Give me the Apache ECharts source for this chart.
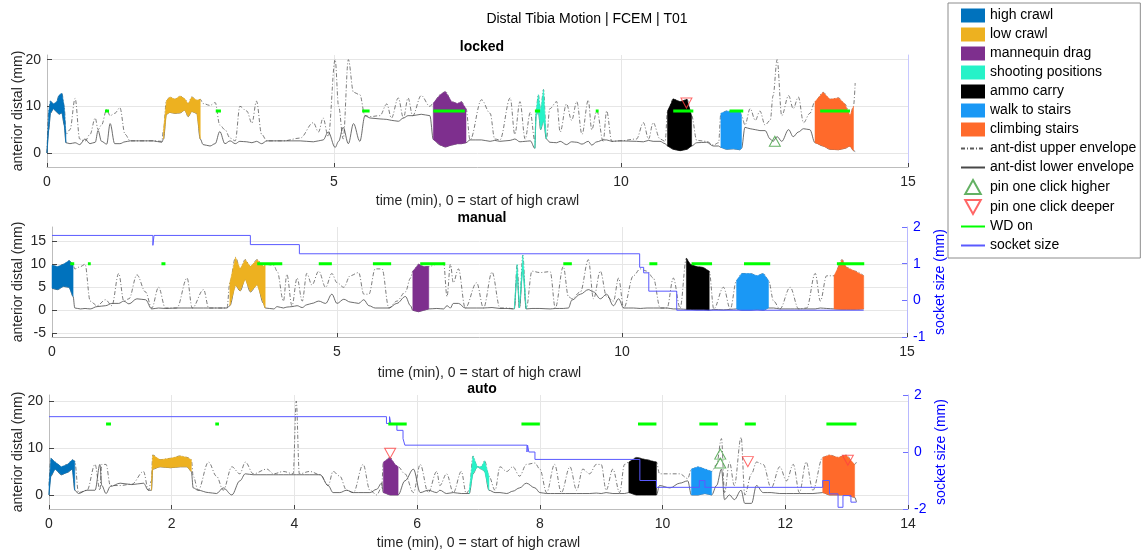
<!DOCTYPE html>
<html>
<head>
<meta charset="utf-8">
<script src="https://cdn.jsdelivr.net/npm/echarts@6/dist/echarts.min.js"></script>
<style>
  html, body { margin: 0; background: #fff; }
  #chart { width: 1143px; height: 555px; }
</style>
</head>
<body>
<div id="chart"></div>
<script>
// activities shown as filled bands between the two envelopes
const activityNames = ['high crawl', 'low crawl', 'mannequin drag', 'shooting positions', 'ammo carry', 'walk to stairs', 'climbing stairs'];
const activityColors = ['#0072BD', '#EDB120', '#7E2F8E', '#26F2C8', '#000000', '#1A98F5', '#FF6A2B'];

// ---- locked ----
const lockedT = [
  0, 0.03, 0.06, 0.11, 0.17, 0.21, 0.26, 0.30, 0.33, 0.40,
  0.49, 0.57, 0.66, 0.75, 0.84, 0.89, 0.95, 1.04, 1.10, 1.18,
  1.27, 1.36, 1.45, 1.62, 1.85, 2.00, 2.03, 2.08, 2.14, 2.23,
  2.32, 2.40, 2.46, 2.52, 2.61, 2.67, 2.72, 2.84, 2.93, 3.01,
  3.10, 3.19, 3.28, 3.36, 3.48, 3.57, 3.65, 3.74, 3.83, 4.12,
  4.41, 4.64, 4.73, 4.81, 4.90, 5.02, 5.08, 5.16, 5.25, 5.34,
  5.45, 5.54, 5.63, 5.80, 5.92, 6.00, 6.12, 6.21, 6.29, 6.37,
  6.52, 6.67, 6.73, 6.85, 6.94, 7.05, 7.15, 7.22, 7.30, 7.37,
  7.57, 7.72, 7.80, 7.89, 8.07, 8.15, 8.24, 8.33, 8.42, 8.50,
  8.52, 8.56, 8.60, 8.65, 8.70, 8.76, 8.88, 8.94, 9.05, 9.14,
  9.23, 9.32, 9.43, 9.49, 9.58, 9.69, 9.75, 9.84, 9.98, 10.27,
  10.39, 10.48, 10.56, 10.68, 10.77, 10.81, 10.91, 11.03, 11.15, 11.23,
  11.32, 11.49, 11.61, 11.70, 11.74, 11.84, 11.96, 12.07, 12.10, 12.16,
  12.25, 12.34, 12.42, 12.51, 12.60, 12.65, 12.72, 12.80, 12.92, 13.00,
  13.09, 13.18, 13.29, 13.38, 13.52, 13.64, 13.79, 13.90, 13.99, 14.05,
  14.08
];
const lockedUpper = [
  0, 9, 11.2, 10.5, 11, 12.4, 12.8, 10, 4, 5,
  11.7, 3, 2.5, 4, 7.5, 5, 6, 9.3, 8, 8.5,
  9.7, 4, 2.6, 2.6, 2.6, 2.5, 5, 11.2, 12, 11.5,
  12.2, 11.6, 10.5, 12, 11.3, 11.5, 10.6, 10.2, 10.8, 6,
  5, 3.2, 2.6, 10, 9, 6.4, 11.1, 4, 2.6, 2.6,
  3.2, 6.5, 4.5, 7.5, 3.5, 20, 10, 3, 20, 13,
  12.5, 8, 7.8, 8, 10.5, 7.5, 11.8, 7.5, 11.8, 8,
  12.3, 10, 10.7, 12.5, 13.2, 11, 10.6, 11, 9.5, 2.8,
  11.4, 8.5, 3, 2.8, 11.8, 4, 11, 3, 8.7, 2.5,
  9, 12.5, 9, 13.6, 3, 9.5, 11, 4.5, 10.5, 7,
  11, 4, 11.3, 5, 9, 2.5, 9, 2.5, 2.6, 3,
  6.5, 3, 6.5, 3, 2.5, 9, 11.6, 11, 11.5, 8,
  2.7, 2.5, 1.7, 2.2, 8.5, 9, 8.8, 9, 8, 6,
  9.5, 7, 9, 6, 7, 12.3, 20, 8, 12.3, 9.5,
  12, 6.5, 8.5, 11, 13, 11.5, 11.8, 10.5, 8, 10,
  15
];
const lockedLower = [
  0, 5, 8.5, 9.5, 8.8, 8.3, 8.6, 6, 2.2, 2,
  2.2, 1.8, 3, 2, 2.3, 4.8, 2.5, 1.9, 6.3, 2,
  2, 2.4, 2.6, 2.6, 2.6, 2.3, 3, 8.3, 8.7, 8.5,
  8.6, 9.2, 7.8, 8.9, 8.5, 3, 1.8, 1.5, 2, 4.6,
  2, 2.6, 2, 2.5, 2.4, 2.2, 2.5, 2, 2.6, 2.6,
  2.6, 2.4, 2.6, 2.8, 4.5, 1.2, 2.5, 5.5, 2, 6.3,
  2.5, 8, 7.5, 7.3, 7.2, 7, 6.8, 7.5, 8, 8,
  8.3, 8, 2.9, 1.7, 1.3, 1.7, 2, 2, 2.2, 2.8,
  2.8, 2.5, 2.7, 2.5, 2.7, 3, 2.4, 2.5, 2.6, 1,
  8, 9, 5, 7, 3, 2.3, 2.2, 2.5, 1.8, 2.4,
  2.3, 1.9, 2.5, 1.7, 2.4, 2.8, 2.8, 2.5, 2.6, 2.5,
  2.4, 2.7, 2.5, 2.5, 2, 1.5, 0.8, 0.5, 0.8, 1.5,
  2.2, 2.3, 1.5, 1.5, 1.2, 0.8, 0.9, 0.7, 1, 5.5,
  5.2, 5, 4.8, 4.8, 3, 2.5, 3.5, 2.5, 5, 3.5,
  4.5, 5.2, 5, 2.2, 1.5, 0.8, 0.7, 1, 1.5, 0.5,
  0.3
];
const lockedActivity = [[0, 0.33], [2.03, 2.67], [6.73, 7.30], [8.50, 8.70], [10.81, 11.23], [11.74, 12.10], [13.38, 14.05]];
const lockedWd = [[1.01, 1.08], [2.94, 3.03], [5.49, 5.62], [6.73, 7.28], [8.50, 8.59], [9.56, 9.61], [10.91, 11.26], [11.89, 12.13], [13.47, 13.99]];
const lockedWdLevel = 9;
const lockedPinHigher = [[12.68, 2.5]];
const lockedPinDeeper = [[11.14, 10.7]];

// ---- manual ----
const manualT = [
  0, 0.10, 0.20, 0.30, 0.37, 0.40, 0.50, 0.58, 0.67, 0.79,
  0.94, 1.05, 1.17, 1.26, 1.35, 1.49, 1.64, 1.75, 1.87, 1.99,
  2.19, 2.37, 2.46, 2.66, 2.75, 3.07, 3.12, 3.22, 3.30, 3.39,
  3.48, 3.60, 3.71, 3.74, 3.89, 3.95, 4.06, 4.12, 4.21, 4.30,
  4.39, 4.47, 4.56, 4.68, 4.80, 4.91, 5.00, 5.12, 5.23, 5.38,
  5.47, 5.56, 5.67, 5.79, 5.91, 6.05, 6.20, 6.29, 6.33, 6.43,
  6.52, 6.61, 6.75, 6.87, 6.93, 6.99, 7.04, 7.13, 7.25, 7.45,
  7.57, 7.72, 7.86, 7.98, 8.11, 8.16, 8.20, 8.26, 8.32, 8.42,
  8.56, 8.74, 8.83, 8.97, 9.06, 9.12, 9.27, 9.41, 9.50, 9.62,
  9.73, 9.85, 9.94, 10.03, 10.20, 10.32, 10.44, 10.55, 10.67, 10.79,
  10.90, 11.02, 11.13, 11.20, 11.31, 11.43, 11.53, 11.61, 11.78, 11.90,
  12.01, 12.10, 12.25, 12.37, 12.48, 12.57, 12.66, 12.77, 12.95, 13.10,
  13.24, 13.39, 13.48, 13.59, 13.72, 13.86, 13.94, 14.09, 14.24
];
const manualUpper = [
  9.8, 9.5, 10, 10.8, 10, 9, 9.5, 10, 2, 1,
  2.3, 1, 8, 2, 2.5, 7.7, 4, 0.5, 5, 0.5,
  0.5, 7, 0.5, 4.5, 0.5, 0.5, 6, 11.5, 9, 11,
  9.5, 11, 9.5, 10, 9.8, 8.5, 2, 7.8, 1, 7,
  2, 8, 5.5, 8.5, 5, 8, 6, 5, 7.5, 8.2,
  3.5, 3.5, 9, 9, 0.5, 2, 4, 7, 8.5, 10,
  9.5, 9.5, 10, 10.3, 3, 10, 6, 9, 0.5, 6,
  0.5, 8.3, 0.5, 0.5, 0.3, 10, 0.5, 12, 0.3, 8.5,
  8.2, 8.4, 0.5, 9.5, 3, 2.5, 4, 11, 2.5, 8.5,
  3, 2, 7, 0.5, 7.5, 9, 8.5, 7, 0.5, 0.5,
  7, 0.5, 11.3, 10, 9.5, 9.3, 8.5, 0.3, 5, 0.3,
  6.5, 8, 8, 7.5, 8, 6.5, 2, 0.3, 5, 0.3,
  0.5, 8, 2, 7.5, 7.5, 11, 9.3, 8.5, 7.5
];
const manualLower = [
  4.8, 4.5, 5.2, 5, 3, 0.5, 0.3, 0.4, 0.3, 0.8,
  1, 1.5, 1.5, 2, 1.4, 2.5, 2.3, 0.3, 0.5, 0.4,
  0.5, 0.5, 0.5, 0.5, 0.5, 0.5, 1, 5.5, 4.2, 6.8,
  4, 5.6, 1.5, 0.5, 0.3, 0.8, 0.5, 0.7, 0.8, 1,
  0.6, 1.2, 1.5, 2, 1.5, 3.5, 1.5, 2.4, 1.8, 1.5,
  2.3, 1, 0.5, 0.5, 0.5, 1.5, 3, 1, 0, -0.3,
  0, 0.3, 0.4, 0.3, 1, 0.5, 1.5, 1.5, 0.5, 0.5,
  0.5, 0.6, 0.4, 0.4, 0.3, 8, 0.5, 9, 0.3, 0.4,
  0.4, 0.3, 0.4, 0.4, 0.5, 2.2, 3.5, 4.5, 4, 2.5,
  3.5, 1, 2.5, 0.5, 0.5, 0.4, 0.5, 0.5, 0.5, 0.5,
  0.3, 0.3, 0.2, 0.2, 0.1, 0.1, 0, 0.2, 0.1, 0.2,
  0.3, 0, 0, 0.2, 0, 0.5, 0.5, 0.3, 0.3, 0.3,
  0.3, 0.3, 0.5, 0.4, 0.3, 0.2, 0.2, 0.2, 0.3
];
const manualActivity = [[0, 0.37], [3.12, 3.74], [6.33, 6.61], [8.11, 8.32], [11.13, 11.53], [12.01, 12.57], [13.72, 14.24]];
const manualWd = [[0.32, 0.39], [0.63, 0.68], [1.92, 1.99], [3.60, 4.04], [4.68, 4.91], [5.63, 5.95], [6.46, 6.90], [8.97, 9.12], [10.48, 10.62], [11.22, 11.58], [12.14, 12.60], [13.77, 14.25]];
const manualWdLevel = 10.1;
const manualPinHigher = [];
const manualPinDeeper = [];
const manualSocketT = [0, 1.77, 1.79, 3.48, 4.34, 10.31, 10.38, 10.47, 10.96, 14.24];
const manualSocketMm = [1.77, 1.5, 1.77, 1.52, 1.27, 0.9, 0.75, 0.25, -0.27, -0.27];

// ---- auto ----
const autoT = [
  0, 0.03, 0.10, 0.20, 0.30, 0.38, 0.42, 0.48, 0.62, 0.75,
  0.83, 0.86, 0.93, 1.00, 1.16, 1.35, 1.54, 1.62, 1.67, 1.69,
  1.81, 1.98, 2.14, 2.25, 2.32, 2.35, 2.43, 2.60, 2.73, 2.84,
  2.98, 3.11, 3.20, 3.33, 3.55, 3.66, 3.82, 3.98, 4.03, 4.08,
  4.25, 4.42, 4.55, 4.63, 4.74, 4.85, 4.96, 5.12, 5.23, 5.34,
  5.42, 5.45, 5.56, 5.64, 5.69, 5.80, 5.94, 6.05, 6.18, 6.32,
  6.37, 6.48, 6.59, 6.72, 6.80, 6.85, 6.91, 6.98, 7.05, 7.10,
  7.17, 7.27, 7.35, 7.46, 7.56, 7.67, 7.78, 7.92, 8.00, 8.11,
  8.24, 8.35, 8.49, 8.60, 8.70, 8.81, 8.92, 9.00, 9.08, 9.19,
  9.30, 9.38, 9.45, 9.57, 9.74, 9.90, 9.95, 10.12, 10.28, 10.41,
  10.47, 10.58, 10.69, 10.80, 10.88, 10.96, 11.01, 11.09, 11.17, 11.28,
  11.34, 11.45, 11.53, 11.64, 11.77, 11.91, 12.02, 12.13, 12.23, 12.34,
  12.45, 12.61, 12.72, 12.86, 12.99, 13.13, 13.16
];
const autoUpper = [
  2, 7.8, 7, 6, 6.5, 7.5, 7.2, 0.5, 1, 6.5,
  1, 6.5, 6.5, 2, 2, 2.3, 5, 1, 3, 8.5,
  7.5, 7.8, 8.3, 8, 7.5, 4, 1, 7, 4, 1,
  6, 4.5, 7, 4.5, 5.5, 4.5, 5, 4.5, 20, 4.5,
  5, 4.3, 2, 5, 4, 1, 0.5, 6.5, 1, 0,
  1.5, 7, 8, 6.5, 6, 4.5, 0.5, 6.5, 0.5, 5,
  2, 4.5, 0.5, 5, 0.3, 1, 8.3, 6, 6, 7.3,
  4, 1, 6, 5, 6, 4, 6.5, 6.8, 5.5, 0.5,
  6.5, 0.5, 6, 1, 5.5, 4.5, 6.5, 6.5, 1, 5.5,
  0.5, 6.5, 7, 8, 7.5, 7, 4.5, 4.5, 4.5, 3.5,
  5.5, 6, 5.5, 5, 6.5, 12, 0.5, 7, 2, 12.3,
  0, 4.5, 7, 6.5, 1.5, 6, 3, 6.5, 0.5, 7,
  1, 8, 8.5, 8, 8.5, 6.5, 7
];
const autoLower = [
  0, 4, 5.5, 4.3, 4.8, 5.5, 1, 0.3, 1, 1,
  6.5, 2, 0.3, 1.8, 2.5, 2.2, 2.5, 1, 1, 5.5,
  6, 5.8, 6, 6, 5, 1.5, 1, 0.5, 0.3, 1.5,
  0, 3, 4.5, 4.3, 4.3, 4.3, 4.3, 4.3, 4.3, 4.3,
  4.3, 4.3, 2, 0.5, 0.5, 1, 0.5, 0.5, 0.5, 1.2,
  2.5, 0.5, 0, 0, 0, 3, 5.5, 0.5, 1, 0.5,
  1, 0.3, 0.5, 0.3, 0.3, 0.3, 4.5, 6, 5.5, 5,
  1, 0.5, 0.5, 0.3, 0.8, 1.5, 2.5, 1.5, 0.5, 0.3,
  0.3, 0.3, 0.3, 0.3, 0.3, 0.3, 0.4, 0.3, 0.5, 0.3,
  0.3, 0.3, 0.5, 0, 0, 0, 2, 1.5, 2.5, 3,
  0, 0, 0.3, 0, 2, 5.5, -1, 0, -1, 1,
  -1.8, -1.8, 2, 0.5, 0.5, 0.3, 0.3, 0.3, 0.3, 0.3,
  0.3, 0.5, 0, 0, 0, -0.5, -1.5
];
const autoActivity = [[0, 0.42], [1.67, 2.32], [5.45, 5.69], [6.85, 7.17], [9.45, 9.90], [10.47, 10.80], [12.61, 13.13]];
const autoWd = [[0.93, 1.01], [2.71, 2.77], [5.53, 5.83], [7.70, 8.00], [9.60, 9.90], [10.60, 10.90], [11.34, 11.52], [12.67, 13.16]];
const autoWdLevel = 15.1;
const autoPinHigher = [[10.94, 8.7], [10.94, 6.8]];
const autoPinDeeper = [[5.56, 8.9], [11.39, 7.1], [13.02, 7.4]];
const autoSocketT = [0, 5.50, 5.55, 5.57, 5.67, 5.77, 5.80, 7.79, 7.80, 7.82, 7.92, 9.63, 9.90, 10.60, 10.69, 12.61, 12.72, 12.86, 12.94, 13.07, 13.16];
const autoSocketMm = [1.24, 1.0, 1.24, 1.0, 0.76, 0.47, 0.24, 0.0, 0.24, 0.0, -0.26, -1.0, -1.24, -1.0, -1.24, -1.0, -1.47, -1.94, -1.53, -1.76, -1.76];

const panels = [
  { title: 'locked', t: lockedT, up: lockedUpper, lo: lockedLower, acts: lockedActivity, wd: lockedWd, wdY: lockedWdLevel, higher: lockedPinHigher, deeper: lockedPinDeeper, sockT: null, sock: null },
  { title: 'manual', t: manualT, up: manualUpper, lo: manualLower, acts: manualActivity, wd: manualWd, wdY: manualWdLevel, higher: manualPinHigher, deeper: manualPinDeeper, sockT: manualSocketT, sock: manualSocketMm },
  { title: 'auto', t: autoT, up: autoUpper, lo: autoLower, acts: autoActivity, wd: autoWd, wdY: autoWdLevel, higher: autoPinHigher, deeper: autoPinDeeper, sockT: autoSocketT, sock: autoSocketMm }
];

// pixel layout of the three subplots
const layout = [
  { top: 55, height: 112, left: 47, right: 235, xMax: 15, xStep: 5, yMin: -3, yMax: 21, ySplit: 3, titleTop: 35, xGap: 27, yGap: 22 },
  { top: 227, height: 110, left: 52, right: 236, xMax: 15, xStep: 5, yMin: -5.8, yMax: 18.1, ySplit: 5, titleTop: 206, xGap: 29, yGap: 27, rMin: -1, rMax: 2, rStep: 1 },
  { top: 395, height: 114, left: 49, right: 235, xMax: 14, xStep: 2, yMin: -3, yMax: 21.3, ySplit: 3, titleTop: 377, xGap: 27, yGap: 24, rMin: -2, rMax: 2, rStep: 2 }
];

const FONT = 'Liberation Sans';
const TXT = '#262626';
const TRI_UP = 'path://M5,0L10,9L0,9Z';
const TRI_DOWN = 'path://M0,0L10,0L5,9Z';
const NO_FILL = 'rgba(0,0,0,0)';

const grids = [], xAxes = [], yAxes = [], series = [];
const titles = [{
  text: 'Distal Tibia Motion | FCEM | T01', left: 582, top: 7, textAlign: 'center',
  textStyle: { fontFamily: FONT, fontSize: 14, fontWeight: 'normal', color: '#000' }
}];

panels.forEach((p, gi) => {
  const L = layout[gi];
  grids.push({ left: L.left, right: L.right, top: L.top, height: L.height, outerBoundsMode: 'none', containLabel: false });
  titles.push({
    text: p.title, left: 477, top: L.titleTop, textAlign: 'center',
    textStyle: { fontFamily: FONT, fontSize: 14, fontWeight: 'bold', color: '#000' }
  });
  xAxes.push({
    type: 'value', gridIndex: gi, min: 0, max: L.xMax, interval: L.xStep,
    name: 'time (min), 0 = start of high crawl', nameLocation: 'middle', nameGap: L.xGap, nameMoveOverlap: false,
    nameTextStyle: { color: TXT, fontSize: 14, fontFamily: FONT },
    axisLine: { onZero: false, lineStyle: { color: '#BDBDBD' } },
    axisTick: { inside: true, length: 4, lineStyle: { color: '#444' } },
    axisLabel: { color: TXT, fontSize: 14, fontFamily: FONT, margin: 8 },
    splitLine: { show: true, showMinLine: false, showMaxLine: false, lineStyle: { color: '#E6E6E6' } }
  });
  yAxes.push({
    type: 'value', gridIndex: gi, min: L.yMin, max: L.yMax, splitNumber: L.ySplit, position: 'left',
    name: 'anterior distal (mm)', nameLocation: 'middle', nameGap: L.yGap, nameMoveOverlap: false,
    nameTextStyle: { color: TXT, fontSize: 14, fontFamily: FONT },
    axisLine: { show: true, onZero: false, lineStyle: { color: '#BDBDBD' } },
    axisTick: { show: true, inside: true, length: 5, lineStyle: { color: '#444' } },
    axisLabel: { color: TXT, fontSize: 14, fontFamily: FONT, margin: 6, showMinLabel: false, showMaxLabel: false },
    splitLine: { show: true, showMinLine: false, showMaxLine: false, lineStyle: { color: '#E6E6E6' } }
  });
  if (p.sockT) {
    yAxes.push({
      type: 'value', gridIndex: gi, min: L.rMin, max: L.rMax, interval: L.rStep, position: 'right',
      name: 'socket size (mm)', nameLocation: 'middle', nameGap: 26, nameRotate: 90, nameMoveOverlap: false,
      nameTextStyle: { color: '#0000FF', fontSize: 14, fontFamily: FONT },
      axisLine: { show: true, onZero: false, lineStyle: { color: '#B8B8FF' } },
      axisTick: { show: true, inside: true, length: 5, lineStyle: { color: '#7070FF' } },
      axisLabel: { color: '#0000FF', fontSize: 14, fontFamily: FONT, margin: 6 },
      splitLine: { show: false }
    });
  } else {
    yAxes.push({
      type: 'value', gridIndex: gi, min: 0, max: 1, position: 'right',
      axisLine: { show: true, onZero: false, lineStyle: { color: '#C8C8FF' } },
      axisTick: { show: false }, axisLabel: { show: false }, splitLine: { show: false }
    });
  }
  const yl = gi * 2, yr = gi * 2 + 1;

  series.push({
    name: 'ant-dist upper envelope', type: 'line', xAxisIndex: gi, yAxisIndex: yl, z: 2,
    symbol: 'none', smooth: 0.35, smoothMonotone: 'x', itemStyle: { color: NO_FILL },
    lineStyle: { color: '#5A5A5A', width: 0.8, type: [4, 2, 1, 2] },
    data: p.t.map((x, i) => [x, p.up[i]])
  });
  series.push({
    name: 'ant-dist lower envelope', type: 'line', xAxisIndex: gi, yAxisIndex: yl, z: 2,
    symbol: 'none', smooth: 0.35, smoothMonotone: 'x', itemStyle: { color: NO_FILL },
    lineStyle: { color: '#484848', width: 0.8 },
    data: p.t.map((x, i) => [x, p.lo[i]])
  });

  p.acts.forEach((range, k) => {
    series.push({
      name: activityNames[k], type: 'custom', xAxisIndex: gi, yAxisIndex: yl, z: 3,
      itemStyle: { color: activityColors[k] },
      data: [[range[0], p.lo[p.t.indexOf(range[0])]]],
      encode: { x: 0, y: 1 },
      renderItem: (params, api) => {
        const top = [], bot = [];
        for (let i = 0; i < p.t.length; i++) {
          if (p.t[i] >= range[0] && p.t[i] <= range[1]) {
            top.push(api.coord([p.t[i], p.up[i]]));
            bot.unshift(api.coord([p.t[i], p.lo[i]]));
          }
        }
        return { type: 'polygon', shape: { points: top.concat(bot) }, style: { fill: activityColors[k], stroke: activityColors[k], lineWidth: 0.5 } };
      }
    });
  });

  const wdData = [];
  p.wd.forEach(seg => { wdData.push([seg[0], p.wdY], [seg[1], p.wdY], [seg[1], '-']); });
  series.push({
    name: 'WD on', type: 'line', xAxisIndex: gi, yAxisIndex: yl, z: 5, symbol: 'none',
    itemStyle: { color: NO_FILL },
    lineStyle: { color: '#00FF00', width: 3 }, data: wdData
  });

  series.push({
    name: 'pin one click higher', type: 'scatter', xAxisIndex: gi, yAxisIndex: yl, z: 6,
    symbol: TRI_UP, symbolSize: [11, 10],
    itemStyle: { color: NO_FILL, borderColor: '#3C9E3C', borderWidth: 1 },
    data: p.higher
  });
  series.push({
    name: 'pin one click deeper', type: 'scatter', xAxisIndex: gi, yAxisIndex: yl, z: 6,
    symbol: TRI_DOWN, symbolSize: [11, 10],
    itemStyle: { color: NO_FILL, borderColor: '#FF4040', borderWidth: 1 },
    data: p.deeper
  });

  if (p.sockT) {
    series.push({
      name: 'socket size', type: 'line', xAxisIndex: gi, yAxisIndex: yr, z: 4,
      symbol: 'none', step: 'end', itemStyle: { color: NO_FILL },
      lineStyle: { color: '#5A5AFF', width: 1 },
      data: p.sockT.map((x, i) => [x, p.sock[i]])
    });
  }
});

const legendNames = activityNames.map(n => ({ name: n, icon: 'rect' })).concat([
  { name: 'ant-dist upper envelope' },
  { name: 'ant-dist lower envelope' },
  { name: 'pin one click higher', icon: TRI_UP },
  { name: 'pin one click deeper', icon: TRI_DOWN },
  { name: 'WD on' },
  { name: 'socket size' }
]);

const chart = echarts.init(document.getElementById('chart'));
chart.setOption({
  animation: false,
  backgroundColor: '#fff',
  textStyle: { fontFamily: FONT },
  title: titles,
  legend: {
    data: legendNames, orient: 'vertical', left: 948, top: 3,
    itemWidth: 24, itemHeight: 14, itemGap: 4, selectedMode: false,
    padding: [5, 4, 5, 12],
    borderColor: '#8C8C8C', borderWidth: 1, backgroundColor: '#fff',
    textStyle: { fontSize: 14, color: '#000', fontFamily: FONT, lineHeight: 15 }
  },
  grid: grids,
  xAxis: xAxes,
  yAxis: yAxes,
  series: series
});
</script>
</body>
</html>
